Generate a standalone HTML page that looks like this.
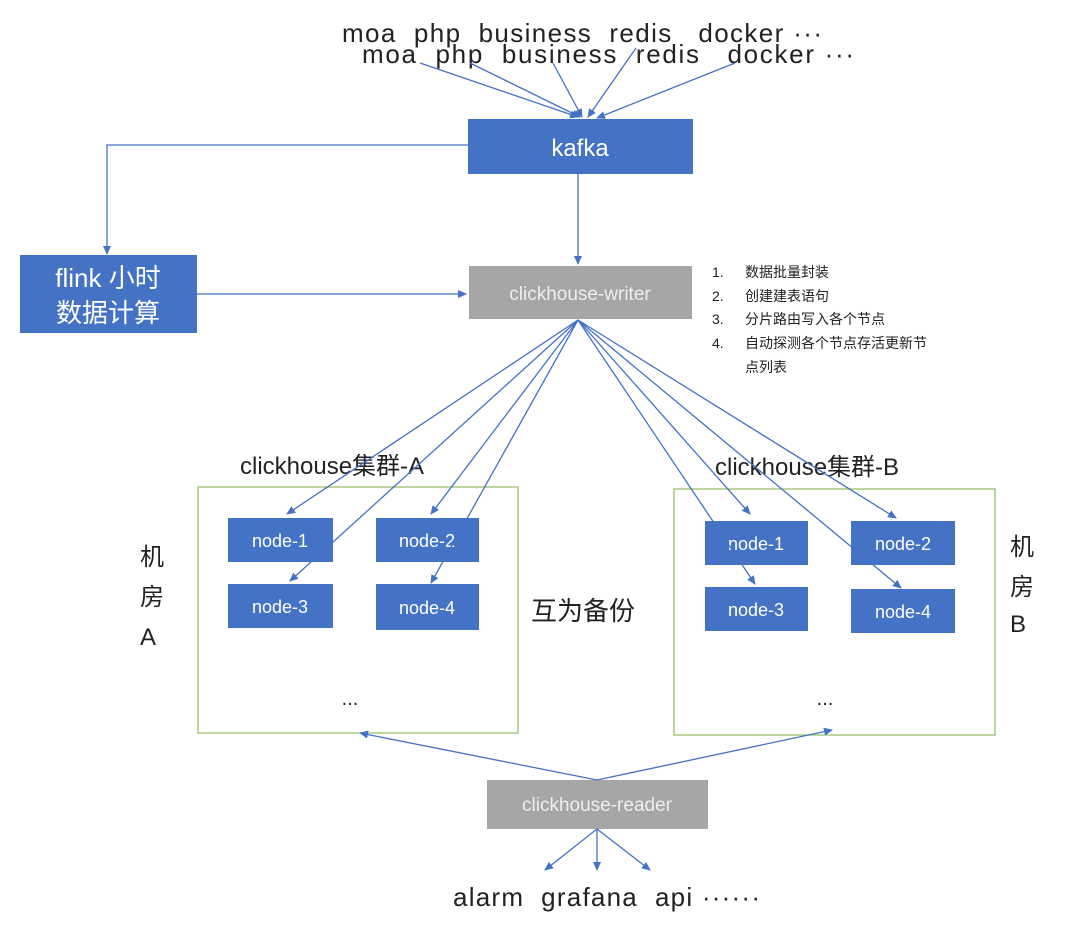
<!DOCTYPE html>
<html><head><meta charset="utf-8"><style>
html,body{margin:0;padding:0;background:#fff;}
svg{display:block;}
text{font-family:"Liberation Sans","Noto Sans CJK SC",sans-serif;white-space:pre;}
</style></head><body>
<svg width="1080" height="946" viewBox="0 0 1080 946" xmlns="http://www.w3.org/2000/svg" xml:space="preserve">
<defs>
<marker id="a" markerWidth="10" markerHeight="10" refX="8" refY="5" orient="auto" markerUnits="userSpaceOnUse">
<path d="M0,1 L9,5 L0,9 Z" fill="#4472c4"/></marker>
</defs>
<rect width="1080" height="946" fill="#fff"/>
<text x="342" y="42" font-size="26" fill="#222" textLength="480" lengthAdjust="spacing">moa  php  business  redis   docker ···</text>
<text x="362" y="63" font-size="26" fill="#222" textLength="492" lengthAdjust="spacing">moa  php  business  redis   docker ···</text>
<g stroke="#4472c4" stroke-width="1.3" fill="none" marker-end="url(#a)">
<line x1="420" y1="63" x2="578" y2="117"/>
<line x1="470" y1="63" x2="580" y2="117"/>
<line x1="553" y1="63" x2="582" y2="117"/>
<line x1="636" y1="48" x2="588" y2="117"/>
<line x1="735" y1="63" x2="597" y2="118"/>
</g>
<rect x="468" y="119" width="225" height="55" fill="#4472c4"/>
<text x="580" y="156" font-size="24" fill="#fff" text-anchor="middle">kafka</text>
<g stroke="#4472c4" stroke-width="1.3" fill="none" marker-end="url(#a)">
<polyline points="468,145 107,145 107,254"/>
<line x1="578" y1="174" x2="578" y2="264"/>
<line x1="197" y1="294" x2="466" y2="294"/>
</g>
<rect x="20" y="255" width="177" height="78" fill="#4472c4"/>
<text x="108" y="287" font-size="26" fill="#fff" text-anchor="middle">flink 小时</text>
<text x="108" y="322" font-size="26" fill="#fff" text-anchor="middle">数据计算</text>
<rect x="469" y="266" width="223" height="53" fill="#a6a6a6"/>
<text x="580" y="300" font-size="19" fill="#eee" text-anchor="middle">clickhouse-writer</text>
<g font-size="14" fill="#222">
<text x="712" y="277">1.</text><text x="745" y="277">数据批量封装</text>
<text x="712" y="301">2.</text><text x="745" y="301">创建建表语句</text>
<text x="712" y="324">3.</text><text x="745" y="324">分片路由写入各个节点</text>
<text x="712" y="348">4.</text><text x="745" y="348">自动探测各个节点存活更新节</text>
<text x="745" y="372">点列表</text>
</g>
<rect x="198" y="487" width="320" height="246" fill="none" stroke="#9bbf6b" stroke-width="1.3"/>
<rect x="674" y="489" width="321" height="246" fill="none" stroke="#9bbf6b" stroke-width="1.3"/>
<text x="240" y="474" font-size="24" fill="#222">clickhouse集群-A</text>
<text x="715" y="475" font-size="24" fill="#222">clickhouse集群-B</text>
<g fill="#4472c4">
<rect x="228" y="518" width="105" height="44"/>
<rect x="376" y="518" width="103" height="44"/>
<rect x="228" y="584" width="105" height="44"/>
<rect x="376" y="584" width="103" height="46"/>
<rect x="705" y="521" width="103" height="44"/>
<rect x="851" y="521" width="104" height="44"/>
<rect x="705" y="587" width="103" height="44"/>
<rect x="851" y="589" width="104" height="44"/>
</g>
<g font-size="18" fill="#fff" text-anchor="middle">
<text x="280" y="547">node-1</text><text x="427" y="547">node-2</text>
<text x="280" y="613">node-3</text><text x="427" y="614">node-4</text>
<text x="756" y="550">node-1</text><text x="903" y="550">node-2</text>
<text x="756" y="616">node-3</text><text x="903" y="618">node-4</text>
</g>
<g stroke="#4472c4" stroke-width="1.3" fill="none" marker-end="url(#a)">
<line x1="578" y1="320" x2="287" y2="514"/>
<line x1="578" y1="320" x2="290" y2="581"/>
<line x1="578" y1="320" x2="431" y2="514"/>
<line x1="578" y1="320" x2="431" y2="583"/>
<line x1="578" y1="320" x2="750" y2="514"/>
<line x1="578" y1="320" x2="755" y2="584"/>
<line x1="578" y1="320" x2="896" y2="518"/>
<line x1="578" y1="320" x2="901" y2="588"/>
</g>
<text x="350" y="705" font-size="20" fill="#222" text-anchor="middle">...</text>
<text x="825" y="705" font-size="20" fill="#222" text-anchor="middle">...</text>
<g font-size="24" fill="#222">
<text x="140" y="565">机</text><text x="140" y="605">房</text><text x="140" y="645">A</text>
<text x="1010" y="555">机</text><text x="1010" y="595">房</text><text x="1010" y="632">B</text>
</g>
<text x="531" y="620" font-size="26" fill="#222">互为备份</text>
<rect x="487" y="780" width="221" height="49" fill="#a6a6a6"/>
<text x="597" y="811" font-size="19" fill="#eee" text-anchor="middle">clickhouse-reader</text>
<g stroke="#4472c4" stroke-width="1.3" fill="none" marker-end="url(#a)">
<line x1="597" y1="780" x2="360" y2="733"/>
<line x1="597" y1="780" x2="832" y2="730"/>
<line x1="597" y1="829" x2="545" y2="870"/>
<line x1="597" y1="829" x2="597" y2="870"/>
<line x1="597" y1="829" x2="650" y2="870"/>
</g>
<text x="453" y="906" font-size="26" fill="#222" textLength="307" lengthAdjust="spacing">alarm  grafana  api ······</text>
</svg>
</body></html>
